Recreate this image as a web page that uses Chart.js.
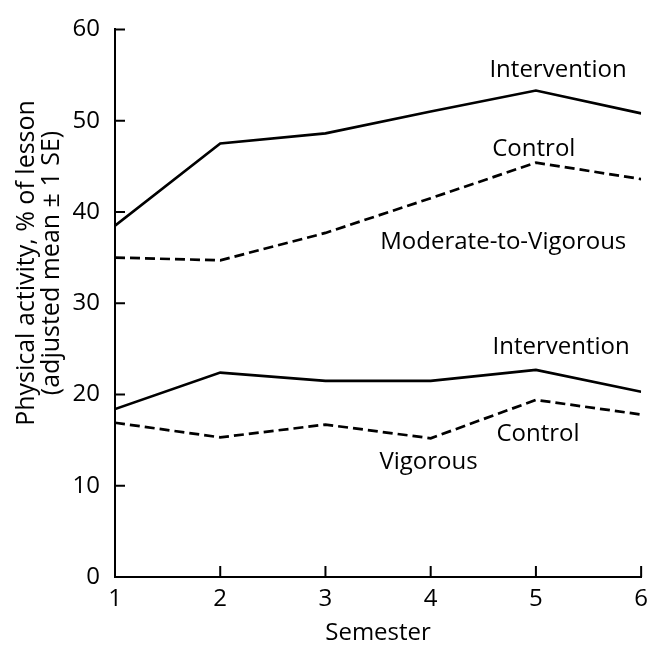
<!DOCTYPE html>
<html>
<head>
<meta charset="utf-8">
<script src="https://cdn.jsdelivr.net/npm/chart.js@4"></script>
<style>
  html, body { margin: 0; padding: 0; background: #fff; }
  #wrap { width: 656px; height: 645px; position: relative; }
</style>
</head>
<body>
<div id="wrap"><canvas id="activityChart"></canvas></div>
<script>
// semesters on the x axis
var semesters = [1, 2, 3, 4, 5, 6];

// moderate-to-vigorous activity, % of lesson
var mvpaIntervention = [38.5, 47.5, 48.6, 51.0, 53.3, 50.8];
var mvpaControl = [35.0, 34.7, 37.7, 41.5, 45.4, 43.6];

// vigorous activity, % of lesson
var vigIntervention = [18.4, 22.4, 21.5, 21.5, 22.7, 20.3];
var vigControl = [16.9, 15.3, 16.7, 15.2, 19.4, 17.8];

var yTicks = [0, 10, 20, 30, 40, 50, 60];

// text set next to the lines, placed in data units
var noteText = ["Intervention", "Control", "Moderate-to-Vigorous", "Intervention", "Control", "Vigorous"];
var noteX = [5.21, 4.98, 4.69, 5.24, 5.02, 3.98];
var noteY = [55.5, 46.9, 36.7, 25.2, 15.6, 12.6];

var yTitle = ["Physical activity, % of lesson", "(adjusted mean \u00b1 1 SE)"];

var FONT = "'Open Sans', sans-serif";
var INK = "#000";

function toPoints(values) {
  return semesters.map(function(s, i) { return {x: s, y: values[i]}; });
}

function lineSet(label, values, dashed) {
  return {
    label: label,
    data: toPoints(values),
    borderColor: INK,
    borderWidth: 2.7,
    borderDash: dashed ? [10, 5] : [],
    pointRadius: 0,
    fill: false,
    tension: 0
  };
}

// inward tick marks, notes and the two-line y title
var decorations = {
  id: 'decorations',
  afterDatasetsDraw: function(chart) {
    var ctx = chart.ctx;
    var x = chart.scales.x, y = chart.scales.y;
    var area = chart.chartArea;
    ctx.save();
    ctx.strokeStyle = INK;
    ctx.lineWidth = 2;
    ctx.beginPath();
    yTicks.forEach(function(v) {
      if (v === 0) return;
      var py = y.getPixelForValue(v);
      ctx.moveTo(area.left, py);
      ctx.lineTo(area.left + 10, py);
    });
    semesters.forEach(function(s) {
      if (s === semesters[0]) return;
      var px = x.getPixelForValue(s);
      ctx.moveTo(px, area.bottom);
      ctx.lineTo(px, area.bottom - 11);
    });
    ctx.stroke();

    ctx.fillStyle = INK;
    ctx.font = "24px " + FONT;
    ctx.textAlign = "center";
    ctx.textBaseline = "middle";
    noteText.forEach(function(t, i) {
      ctx.fillText(t, x.getPixelForValue(noteX[i]), y.getPixelForValue(noteY[i]));
    });

    ctx.translate(0, 263);
    ctx.rotate(-Math.PI / 2);
    ctx.font = "25px " + FONT;
    ctx.fillText(yTitle[0], 0, 27);
    ctx.fillText(yTitle[1], 0, 52);
    ctx.restore();
  }
};

new Chart(document.getElementById("activityChart"), {
  type: 'line',
  data: {
    datasets: [
      lineSet("MVPA intervention", mvpaIntervention, false),
      lineSet("MVPA control", mvpaControl, true),
      lineSet("Vigorous intervention", vigIntervention, false),
      lineSet("Vigorous control", vigControl, true)
    ]
  },
  options: {
    responsive: true,
    maintainAspectRatio: false,
    animation: false,
    layout: { padding: { top: 20, right: 11, left: 0, bottom: 0 } },
    plugins: {
      legend: { display: false },
      tooltip: { enabled: false }
    },
    scales: {
      x: {
        type: 'linear',
        min: 1,
        max: 6,
        afterFit: function(scale) { scale.height = 68; },
        afterBuildTicks: function(scale) {
          scale.ticks = semesters.map(function(s) { return {value: s}; });
        },
        grid: { display: true, drawOnChartArea: false, drawTicks: false },
        border: { display: true, color: INK, width: 2 },
        ticks: { color: INK, padding: 8, font: { family: FONT, size: 24 } },
        title: {
          display: true,
          text: "Semester",
          color: INK,
          padding: { top: 0, bottom: 0 },
          font: { family: FONT, size: 24, lineHeight: 1 }
        }
      },
      y: {
        min: 0,
        max: 60,
        afterFit: function(scale) { scale.width = 115; },
        afterBuildTicks: function(scale) {
          scale.ticks = yTicks.map(function(v) { return {value: v}; });
        },
        grid: { display: true, drawOnChartArea: false, drawTicks: false },
        border: { display: true, color: INK, width: 2 },
        ticks: { color: INK, padding: 15, font: { family: FONT, size: 24 } }
      }
    }
  },
  plugins: [decorations]
});
</script>
</body>
</html>
